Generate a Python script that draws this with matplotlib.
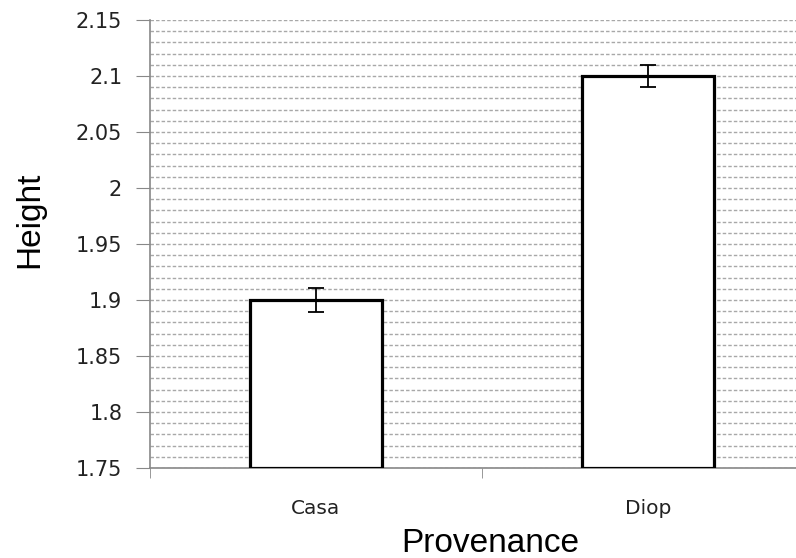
import matplotlib.pyplot as plt
import numpy as np
from matplotlib.ticker import MultipleLocator, FixedLocator

# data
categories = ['Casa', 'Diop']
heights = [1.9, 2.1]
errors = [0.0105, 0.01]
yticks = [1.75, 1.8, 1.85, 1.9, 1.95, 2.0, 2.05, 2.1, 2.15]
ytick_labels = ['1.75', '1.8', '1.85', '1.9', '1.95', '2', '2.05', '2.1', '2.15']

W, H = 796, 558
fig = plt.figure(figsize=(W / 100, H / 100), dpi=100)
# plot area runs past the right edge of the picture, as in the original
ax = fig.add_axes([150 / W, (H - 468) / H, (814 - 150) / W, 448 / H])

x = np.arange(len(categories))
ax.bar(x, np.array(heights) - 1.75, bottom=1.75, width=0.4,
       color='white', edgecolor='black', linewidth=2.3, zorder=3)
ax.errorbar(x, heights, yerr=errors, fmt='none', ecolor='black',
            elinewidth=1.3, capsize=5.5, capthick=1.3, zorder=4)

ax.set_xlim(-0.5, 1.5)
ax.set_ylim(1.75, 2.15)

ax.yaxis.set_major_locator(FixedLocator(yticks))
ax.set_yticklabels(ytick_labels)
ax.yaxis.set_minor_locator(MultipleLocator(0.01))
ax.grid(True, axis='y', which='both', color='#a8a8a8', linestyle=(0, (2.5, 1.5)),
        linewidth=1.0, zorder=0)

ax.set_xticks(x)
ax.set_xticklabels(categories)
ax.xaxis.set_minor_locator(FixedLocator([-0.5, 0.5, 1.5]))
ax.tick_params(axis='x', which='major', length=0, pad=22, labelsize=14.5, labelcolor='#222222')
ax.tick_params(axis='x', which='minor', length=7, color='#888888', direction='out')
ax.tick_params(axis='y', which='major', length=10, color='#888888', direction='out',
               pad=10, labelsize=15, labelcolor='#222222')
ax.tick_params(axis='y', which='minor', length=0)

for s in ['top', 'right']:
    ax.spines[s].set_visible(False)
for s in ['left', 'bottom']:
    ax.spines[s].set_color('#888888')
    ax.spines[s].set_linewidth(1.2)

fig.text(30 / W, 1 - 220 / H, 'Height', rotation=90, ha='center', va='center',
         fontsize=24, family='Liberation Sans')
fig.text(490 / W, 1 - 543 / H, 'Provenance', ha='center', va='center',
         fontsize=24, family='Liberation Sans')

fig.savefig('out.png', dpi=100)
